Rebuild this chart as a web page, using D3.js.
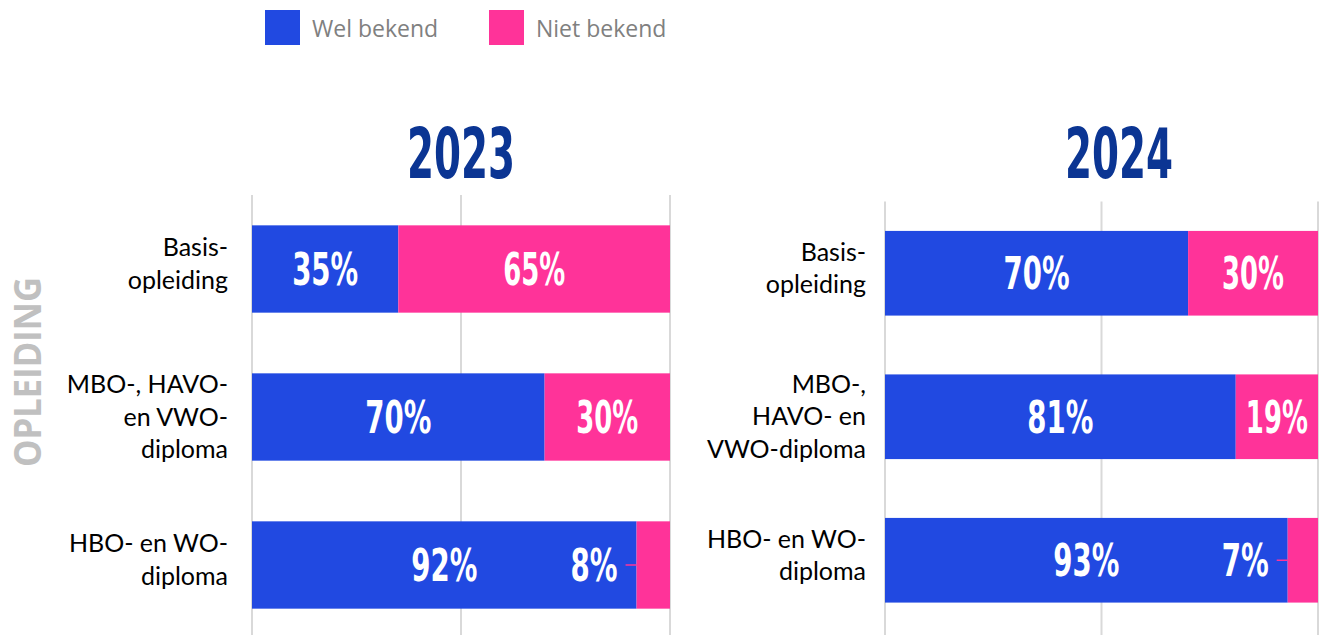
<!DOCTYPE html>
<html>
<head>
    <meta charset="utf-8">
    <title>Opleiding - bekendheid</title>
    <script src="https://d3js.org/d3.v7.min.js"></script>
    <style>
        body { margin: 0; background: #fff; }
    </style>
</head>
<body>
<svg width="1322" height="635"></svg>
<script>
    const width = 1322;
    const height = 635;

    const years = ["2023", "2024"];
    const categories = ["basis", "mbo", "hbo"];
    const catLines2023 = [["Basis-", "opleiding"], ["MBO-, HAVO-", "en VWO-", "diploma"], ["HBO- en WO-", "diploma"]];
    const catLines2024 = [["Basis-", "opleiding"], ["MBO-,", "HAVO- en", "VWO-diploma"], ["HBO- en WO-", "diploma"]];
    const wel2023 = [35, 70, 92];
    const niet2023 = [65, 30, 8];
    const wel2024 = [70, 81, 93];
    const niet2024 = [30, 19, 7];
    const seriesNames = ["Wel bekend", "Niet bekend"];

    const blue = "#2149e1";
    const pink = "#ff3399";
    const navy = "#0b3593";
    const condensed = "'Liberation Sans Narrow', 'DejaVu Sans Condensed', sans-serif";

    const svg = d3.select("svg");

    // legend
    const legend = svg.append("g");
    const legendX = [265, 489];
    seriesNames.forEach((name, i) => {
        legend.append("rect")
            .attr("x", legendX[i]).attr("y", 10)
            .attr("width", 35).attr("height", 35)
            .attr("fill", i === 0 ? blue : pink);
        legend.append("text")
            .attr("x", legendX[i] + 47).attr("y", 37)
            .attr("font-family", "'Open Sans', sans-serif")
            .attr("font-size", 23)
            .attr("fill", "#808080")
            .text(name);
    });

    // axis title
    svg.append("text")
        .attr("transform", "translate(40.5,372) rotate(-90)")
        .attr("text-anchor", "middle")
        .attr("font-family", "'Open Sans', sans-serif")
        .attr("font-weight", "bold")
        .attr("font-size", 37)
        .attr("fill", "#c0c0c0")
        .attr("textLength", 190)
        .attr("lengthAdjust", "spacingAndGlyphs")
        .text("OPLEIDING");

    const panels = [
        { year: years[0], lines: catLines2023, wel: wel2023, niet: niet2023, x0: 252, x1: 670, y0: 195, y1: 639, labelX: 228, titleX: 461 },
        { year: years[1], lines: catLines2024, wel: wel2024, niet: niet2024, x0: 885, x1: 1318, y0: 201.5, y1: 632, labelX: 866, titleX: 1119 }
    ];

    function condensedText(sel, target) {
        // squeeze text to a target width if the font is wider
        sel.each(function() {
            const len = this.getComputedTextLength();
            if (len > target) {
                d3.select(this).attr("textLength", target).attr("lengthAdjust", "spacingAndGlyphs");
            }
        });
    }

    panels.forEach(p => {
        const g = svg.append("g");
        const x = d3.scaleLinear().domain([0, 100]).range([p.x0, p.x1]);
        const y = d3.scaleBand().domain(categories).range([p.y0, p.y1])
            .paddingInner(0.41).paddingOuter(0.205);

        // gridlines
        g.selectAll("line.grid")
            .data(x.ticks(2))
            .join("line")
            .attr("class", "grid")
            .attr("x1", d => x(d)).attr("x2", d => x(d))
            .attr("y1", p.y0).attr("y2", height)
            .attr("stroke", "#d9d9d9")
            .attr("stroke-width", 2);

        // title
        g.append("text")
            .attr("x", p.titleX)
            .attr("y", 178)
            .attr("text-anchor", "middle")
            .attr("font-family", condensed)
            .attr("font-weight", "bold")
            .attr("font-size", 70)
            .attr("fill", navy)
            .text(p.year)
            .call(condensedText, 108);

        const rows = categories.map((c, i) => ({ cat: c, wel: p.wel[i], niet: p.niet[i], lines: p.lines[i] }));

        // bars
        g.selectAll("rect.wel")
            .data(rows)
            .join("rect")
            .attr("class", "wel")
            .attr("x", x(0))
            .attr("y", d => y(d.cat))
            .attr("width", d => x(d.wel) - x(0))
            .attr("height", y.bandwidth())
            .attr("fill", blue);

        g.selectAll("rect.niet")
            .data(rows)
            .join("rect")
            .attr("class", "niet")
            .attr("x", d => x(d.wel))
            .attr("y", d => y(d.cat))
            .attr("width", d => x(d.wel + d.niet) - x(d.wel))
            .attr("height", y.bandwidth())
            .attr("fill", pink);

        // category labels
        rows.forEach(d => {
            const lh = 32.5;
            const n = d.lines.length;
            const cy = y(d.cat) + y.bandwidth() / 2;
            const top = cy - (n - 1) * lh / 2 + 3.5 + (n - 2) * 5;
            const t = g.append("text")
                .attr("text-anchor", "end")
                .attr("font-family", "Lato, 'Open Sans', sans-serif")
                .attr("font-size", 25)
                .attr("fill", "#000");
            d.lines.forEach((ln, k) => {
                t.append("tspan")
                    .attr("x", p.labelX)
                    .attr("y", top + k * lh)
                    .text(ln);
            });
        });

        // value labels
        const valueLabel = (sel) => sel
            .attr("font-family", condensed)
            .attr("font-weight", "bold")
            .attr("font-size", 44)
            .attr("fill", "#fff");

        rows.forEach(d => {
            const cy = y(d.cat) + y.bandwidth() / 2 + 16;
            g.append("text")
                .attr("x", (x(0) + x(d.wel)) / 2)
                .attr("y", cy)
                .attr("text-anchor", "middle")
                .call(valueLabel)
                .text(d.wel + "%")
                .call(condensedText, d.wel >= 10 ? 66 : 45);

            if (d.niet >= 10) {
                g.append("text")
                    .attr("x", (x(d.wel) + x(100)) / 2)
                    .attr("y", cy)
                    .attr("text-anchor", "middle")
                    .call(valueLabel)
                    .text(d.niet + "%")
                    .call(condensedText, 62);
            } else {
                // small segment: label sits left of it with a leader line
                const sx = x(d.wel);
                g.append("line")
                    .attr("x1", sx - 11).attr("x2", sx)
                    .attr("y1", cy - 16).attr("y2", cy - 16)
                    .attr("stroke", pink)
                    .attr("stroke-width", 1.5);
                g.append("text")
                    .attr("x", sx - 19)
                    .attr("y", cy)
                    .attr("text-anchor", "end")
                    .call(valueLabel)
                    .text(d.niet + "%")
                    .call(condensedText, 47);
            }
        });
    });
</script>
</body>
</html>
